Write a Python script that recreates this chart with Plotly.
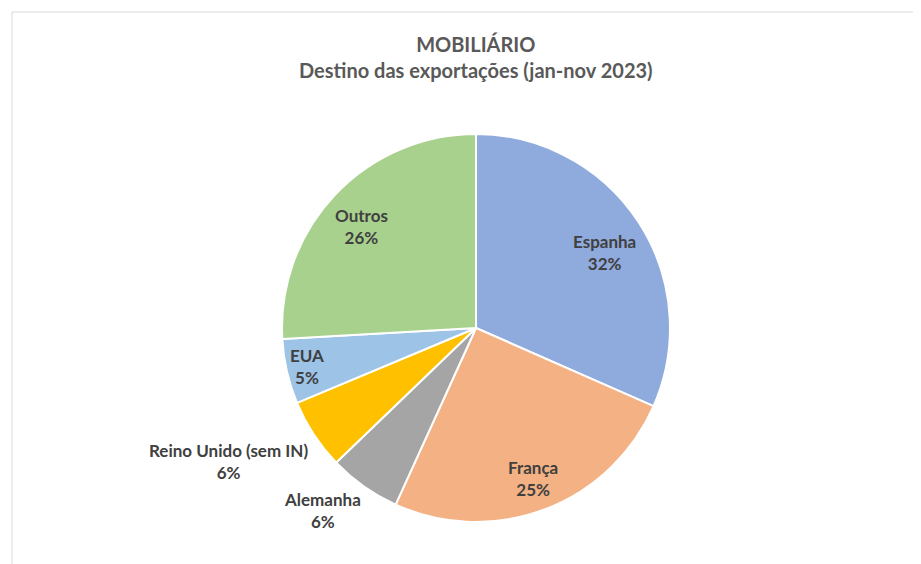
import plotly.graph_objects as go

# data (share of exports, %)
countries = ["Espanha", "França", "Alemanha", "Reino Unido (sem IN)", "EUA", "Outros"]
shares = [31.6, 25.2, 6.0, 5.9, 5.4, 25.9]
colors = ["#8FAADC", "#F4B183", "#A5A5A5", "#FFC000", "#9DC3E6", "#A9D18E"]

W, H = 921, 564
OFF = 8  # page body margin pushes the plot 8px right/down
cx, cy, R = 476 - OFF, 328 - OFF, 194

# label centres in pixels (page coordinates), one per slice
label_xy = [(604, 252), (533, 478), (322, 510), (228, 461), (307, 366), (361, 226)]


def to_paper(px, py):
    return (px - OFF) / W, 1 - (py - OFF) / H


fig = go.Figure(go.Pie(
    labels=countries,
    values=shares,
    sort=False,
    direction="clockwise",
    rotation=0,
    marker=dict(colors=colors, line=dict(color="white", width=2)),
    textinfo="none",
    hoverinfo="label+percent",
    showlegend=False,
    domain=dict(x=[(cx - R) / W, (cx + R) / W], y=[1 - (cy + R) / H, 1 - (cy - R) / H]),
))

total = sum(shares)
for name, val, (lx, ly) in zip(countries, shares, label_xy):
    x, y = to_paper(lx, ly)
    fig.add_annotation(
        x=x, y=y, xref="paper", yref="paper",
        xanchor="center", yanchor="middle",
        text=f"{name}<br>{round(val / total * 100)}%",
        showarrow=False,
        font=dict(family="Lato", size=17, color="#404040", weight="bold"),
        align="center",
    )

tx, ty = to_paper(476, 57)
fig.add_annotation(
    x=tx, y=ty, xref="paper", yref="paper",
    xanchor="center", yanchor="middle",
    text="MOBILIÁRIO<br>Destino das exportações (jan-nov 2023)",
    showarrow=False,
    font=dict(family="Lato", size=20, color="#595959", weight="bold"),
    align="center",
)

# chart frame
fx, fy = to_paper(12, 12)
fig.add_shape(type="rect", xref="paper", yref="paper",
              x0=fx, x1=1.05, y0=-0.05, y1=fy,
              line=dict(color="#D9D9D9", width=1))

fig.update_layout(
    width=W, height=H,
    margin=dict(l=0, r=0, t=0, b=0),
    paper_bgcolor="white",
    plot_bgcolor="white",
)

fig.write_html("out.html")
